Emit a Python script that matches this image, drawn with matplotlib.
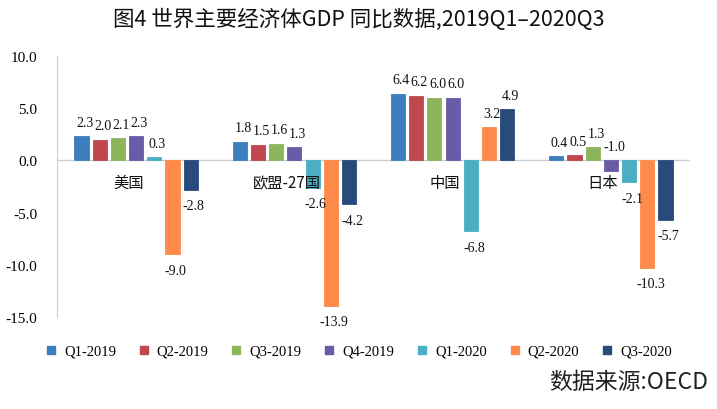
import numpy as np
import matplotlib.pyplot as plt
from matplotlib.lines import Line2D

plt.rcParams['font.family'] = ['Noto Sans CJK SC', 'DejaVu Sans']

countries = ['美国', '欧盟-27国', '中国', '日本']
quarters = ['Q1-2019', 'Q2-2019', 'Q3-2019', 'Q4-2019', 'Q1-2020', 'Q2-2020', 'Q3-2020']
us = [2.3, 2.0, 2.1, 2.3, 0.3, -9.0, -2.8]
eu = [1.8, 1.5, 1.6, 1.3, -2.6, -13.9, -4.2]
cn = [6.4, 6.2, 6.0, 6.0, -6.8, 3.2, 4.9]
jp = [0.4, 0.5, 1.3, -1.0, -2.1, -10.3, -5.7]
colors = ['#3c7ebd', '#c0474d', '#8db55c', '#6a5ba6', '#4aaec4', '#ff8b4b', '#284b7c']

data = np.array([us, eu, cn, jp])  # rows = countries

fig = plt.figure(figsize=(7.17, 4.10), dpi=100)
ax = fig.add_axes([0.0795, 0.2244, 0.8829, 0.6366])

x = np.arange(len(countries))
slot = 0.115
w = 0.089
serif = 'Liberation Serif'

for k, q in enumerate(quarters):
    xs = x + (k - 3) * slot
    vals = data[:, k]
    ax.bar(xs, vals, width=w, color=colors[k], edgecolor=colors[k], linewidth=0.6)
    for i, (xx, v) in enumerate(zip(xs, vals)):
        # japan Q4-2019 label sits above the zero line in the original
        if v >= 0 or (i == 3 and k == 3):
            base = max(v, 0)
            ax.text(xx + 0.02, base + 0.7, f'{v:.1f}', ha='center', va='bottom',
                    fontsize=10, family=serif, color='#111111')
        else:
            ax.text(xx + 0.02, v - 0.9, f'{v:.1f}', ha='center', va='top',
                    fontsize=10, family=serif, color='#111111')

for i, name in enumerate(countries):
    ax.text(i - 0.05, -1.3, name, ha='center', va='top', fontsize=11,
            color='#111111')

ax.set_xlim(-0.5, 3.5)
ax.set_ylim(-15, 10)
ax.set_yticks([-15, -10, -5, 0, 5, 10])
ax.set_yticklabels([f'{t:.1f}' for t in [-15, -10, -5, 0, 5, 10]],
                   family=serif, fontsize=11)
ax.set_xticks([])
ax.tick_params(axis='y', length=0, pad=14)
for s in ['top', 'right', 'bottom']:
    ax.spines[s].set_visible(False)
ax.spines['left'].set_color('#c8cfd2')
ax.axhline(0, color='#c8cfd2', linewidth=1, zorder=0)

handles = [Line2D([], [], marker='s', linestyle='', markersize=5.5,
                  markerfacecolor=c, markeredgecolor=c) for c in colors]
fig.legend(handles, quarters, loc='center', bbox_to_anchor=(0.5, 0.141),
           ncol=7, frameon=False, prop={'family': serif, 'size': 10.5},
           handlelength=0.8, handletextpad=0.5, columnspacing=1.5)

fig.text(0.5, 0.951, '图4 世界主要经济体GDP 同比数据,2019Q1–2020Q3',
         ha='center', va='center', fontsize=15.5, color='#111111')
fig.text(0.988, 0.066, '数据来源:OECD', ha='right', va='center',
         fontsize=16.5, color='#222222')

fig.savefig('out.png', dpi=100)
